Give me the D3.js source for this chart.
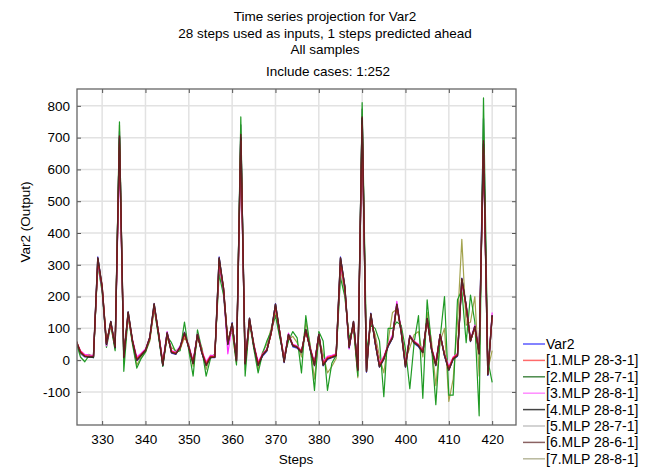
<!DOCTYPE html>
<html><head><meta charset="utf-8">
<script src="https://cdn.jsdelivr.net/npm/d3@7"></script>
<style>body{margin:0;background:#fff;} text{font-family:"Liberation Sans",Arial,sans-serif;fill:#000;}</style>
</head><body>
<svg id="c" width="645" height="468"></svg>
<script>
const steps = d3.range(324, 421);
const titleLines = ["Time series projection for Var2","28 steps used as inputs, 1 steps predicted ahead","All samples"];
const subTitle = "Include cases: 1:252";
const yTicks = [-100,0,100,200,300,400,500,600,700,800];
const xTicks = [330,340,350,360,370,380,390,400,410,420];
const seriesNames = ["Var2","[1.MLP 28-3-1]","[2.MLP 28-7-1]","[3.MLP 28-8-1]","[4.MLP 28-8-1]","[5.MLP 28-7-1]","[6.MLP 28-6-1]","[7.MLP 28-8-1]"];
const seriesColors = ["#3b3bff","#ff2020","#1f9a24","#ff30ff","#1a1a1a","#b8b8b8","#5e2222","#a3a34e"];
const legendColors = ["#5a5aff","#ff6a6a","#4a8a4a","#ff8cff","#444444","#c4c4c4","#8a6262","#b8b89c"];
const drawOrder = [0,5,7,2,3,4,1,6];

const var2 = [60,20,10,10,8,325,228,48,122,38,
720,5,152,58,-2,12,28,72,178,82,
-18,88,22,18,42,88,38,-12,82,22,
-18,8,8,325,222,48,118,-5,740,-15,
132,42,-18,12,28,88,178,82,-8,82,
42,38,22,98,32,-18,82,-18,2,8,
12,325,232,38,122,-35,790,-38,148,52,
-22,2,42,68,178,88,-22,78,52,42,
22,132,32,-18,82,12,-32,2,12,258,
172,58,108,18,760,-48,142];
const mlp1 = [62,28,14,12,12,310,235,55,115,45,
680,15,145,62,5,18,32,68,170,88,
-10,80,28,22,38,80,42,-5,78,28,
-10,12,12,310,230,55,110,5,690,-5,
125,48,-10,18,32,82,168,88,0,78,
48,42,28,90,38,-10,78,-10,8,12,
18,310,228,45,115,-25,740,-30,140,58,
-15,8,48,72,170,92,-15,72,58,48,
28,125,38,-10,78,18,-25,8,18,250,
165,62,100,25,670,-40,135];
const mlp2 = [55,10,-5,15,8,300,215,40,110,30,
750,-35,140,50,-25,5,25,65,165,75,
-20,75,55,25,30,120,30,-50,95,35,
-50,5,20,270,205,55,100,-15,765,-50,
120,35,-40,20,60,90,140,70,10,60,
90,70,-40,140,40,-95,90,60,-95,-10,
15,260,200,70,100,-50,810,30,110,100,
60,-115,100,100,120,110,35,-90,55,140,
-120,190,45,-140,70,200,-110,-110,190,220,
55,205,120,-175,825,0,-70];
const mlp3 = [58,30,18,16,15,305,225,45,118,42,
640,20,140,65,10,22,35,72,168,90,
-5,90,30,25,45,85,45,0,82,30,
-5,15,15,300,220,20,112,10,650,0,
125,50,-5,20,35,85,165,90,5,85,
50,45,30,92,40,-5,82,-5,12,15,
20,300,225,35,118,-20,720,-25,140,60,
-10,12,50,80,185,95,-10,78,60,50,
30,128,40,-5,82,20,-20,10,20,240,
175,65,110,30,650,-35,150];
const mlp4 = [60,25,12,10,10,320,230,50,120,40,
700,10,150,60,0,15,30,70,175,85,
-15,85,25,20,40,85,40,-10,80,25,
-15,10,10,320,225,50,115,0,700,-10,
130,45,-15,15,30,85,175,85,-5,80,
45,40,25,95,35,-15,80,-15,5,10,
15,320,230,40,120,-30,760,-35,145,55,
-20,5,45,70,175,90,-20,75,55,45,
25,130,35,-15,80,15,-30,5,15,255,
170,60,105,20,680,-45,140];
const mlp5 = [60,22,11,10,10,315,228,50,118,40,
690,12,148,60,2,15,30,70,172,85,
-12,84,25,20,40,84,40,-8,80,25,
-12,10,10,315,225,50,114,2,690,-8,
128,45,-12,15,30,84,172,85,-3,80,
45,40,25,94,35,-12,80,-12,5,10,
15,315,228,40,118,-28,750,-33,143,55,
-18,5,45,70,172,88,-18,74,55,45,
25,128,35,-12,80,15,-28,5,15,252,
168,60,104,22,675,-42,138];
const mlp6 = [62,24,12,11,11,322,232,52,122,42,
705,8,152,62,0,16,31,72,178,86,
-16,86,24,20,41,86,41,-11,81,24,
-16,9,9,322,228,52,116,-2,710,-12,
132,46,-16,16,31,86,176,86,-6,81,
46,41,24,96,36,-16,81,-16,4,9,
14,322,232,42,122,-32,765,-36,146,56,
-21,4,46,71,176,91,-21,76,56,46,
24,131,36,-16,81,16,-31,4,14,256,
172,61,106,21,690,-46,142];
const mlp7 = [58,22,15,18,12,305,220,60,110,35,
740,0,135,55,-15,10,25,60,160,80,
-5,70,40,30,35,70,50,-20,70,40,
-30,15,10,290,215,70,90,-10,740,-30,
115,55,-30,25,50,100,150,75,15,65,
75,55,10,120,50,-60,70,20,-40,-20,
5,290,210,60,110,-55,790,-10,120,80,
10,-40,60,150,160,100,0,40,80,90,
10,150,60,-80,60,100,-130,-60,120,380,
110,120,200,-50,760,-30,30];

const allSeries = [var2,mlp1,mlp2,mlp3,mlp4,mlp5,mlp6,mlp7];

const svg = d3.select("#c");
const L=77,R=516,T=89,B=425;
const x = d3.scaleLinear().domain([324.2,425.5]).range([L,R]);
const y = d3.scaleLinear().domain([-204,853]).range([B,T]);

// titles
const tcx = 325;
titleLines.forEach((t,i)=>{
  svg.append("text").attr("x",tcx).attr("y",21+i*16.6).attr("text-anchor","middle").style("font-size","13.5px").text(t);
});
svg.append("text").attr("x",tcx+3).attr("y",76).attr("text-anchor","middle").style("font-size","13.5px").text(subTitle);

// grid
const g = svg.append("g");
g.selectAll("line.gx").data(xTicks).join("line").attr("x1",d=>x(d)).attr("x2",d=>x(d)).attr("y1",T).attr("y2",B)
  .attr("stroke","#e2e2e2").attr("stroke-width",1.5);
g.selectAll("line.gy").data(yTicks).join("line").attr("y1",d=>y(d)).attr("y2",d=>y(d)).attr("x1",L).attr("x2",R)
  .attr("stroke","#e2e2e2").attr("stroke-width",1.5);

// clip
svg.append("clipPath").attr("id","clip").append("rect").attr("x",L).attr("y",T).attr("width",R-L).attr("height",B-T);

const line = d3.line().x((d,i)=>x(steps[i])).y(d=>y(d));
const lg = svg.append("g").attr("clip-path","url(#clip)");
drawOrder.forEach(k=>{
  lg.append("path").datum(allSeries[k]).attr("d",line).attr("fill","none").attr("stroke",seriesColors[k])
    .attr("stroke-width",(k===4||k===6)?1.4:1.2).attr("stroke-linejoin","round");
});

// axes
const fmt = d => String(d);
const axL = d3.axisLeft(y).tickValues(yTicks).tickSize(-4).tickPadding(7).tickFormat(fmt);
const axB = d3.axisBottom(x).tickValues(xTicks).tickSize(-4).tickPadding(9).tickFormat(fmt);
const axR = d3.axisRight(y).tickValues(yTicks).tickSize(-4).tickFormat("");
const axT = d3.axisTop(x).tickValues(xTicks).tickSize(-4).tickFormat("");
function style(sel){ sel.selectAll("path").remove(); sel.selectAll("line").attr("stroke","#555"); sel.selectAll("text").style("font-size","13.5px").attr("fill","#000"); }
svg.append("g").attr("transform",`translate(${L},0)`).call(axL).call(style);
svg.append("g").attr("transform",`translate(0,${B})`).call(axB).call(style);
svg.append("g").attr("transform",`translate(${R},0)`).call(axR).call(style);
svg.append("g").attr("transform",`translate(0,${T})`).call(axT).call(style);
svg.append("rect").attr("x",L).attr("y",T).attr("width",R-L).attr("height",B-T).attr("fill","none").attr("stroke","#666").attr("stroke-width",1.3);

// axis titles
svg.append("text").attr("transform",`translate(30,222) rotate(-90)`).attr("text-anchor","middle").style("font-size","13.5px").text("Var2 (Output)");
svg.append("text").attr("x",296).attr("y",464).attr("text-anchor","middle").style("font-size","13.5px").text("Steps");

// legend
const leg = svg.append("g");
seriesNames.forEach((n,i)=>{
  const yy = 344 + i*16.4;
  leg.append("line").attr("x1",523).attr("x2",545).attr("y1",yy).attr("y2",yy).attr("stroke",legendColors[i]).attr("stroke-width",1.5);
  leg.append("text").attr("x",546).attr("y",yy+5).style("font-size","14px").text(n);
});
</script>
</body></html>
